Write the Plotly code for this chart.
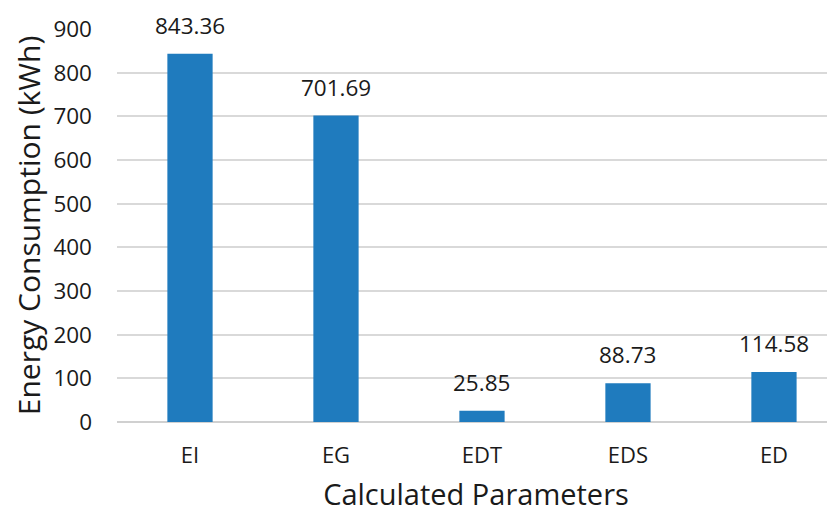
import plotly.graph_objects as go

categories = ["EI", "EG", "EDT", "EDS", "ED"]
values = [843.36, 701.69, 25.85, 88.73, 114.58]
labels = ["843.36", "701.69", "25.85", "88.73", "114.58"]
y_ticks = [0, 100, 200, 300, 400, 500, 600, 700, 800, 900]

FONT = "Open Sans"
TXT = "#1a1a1a"

fig = go.Figure()
fig.add_trace(go.Bar(
    x=categories, y=values,
    marker=dict(color="#1F7BBE", line=dict(width=0)),
    width=0.31,
    hoverinfo="skip",
))

for c, v, t in zip(categories, values, labels):
    fig.add_annotation(x=c, y=v, text=t, showarrow=False, yanchor="bottom",
                       yshift=11, font=dict(family=FONT, size=22.5, color=TXT))

# page body has an 8px margin, so the figure is 8px smaller than the window
fig.update_layout(
    width=827, height=505,
    margin=dict(l=109, r=0, t=21, b=91, pad=0),
    paper_bgcolor="white", plot_bgcolor="white",
    showlegend=False,
    font=dict(family=FONT, color=TXT),
    xaxis=dict(
        range=[-0.5, 4.418], automargin=False,
        showgrid=False, showline=False, zeroline=False,
        tickfont=dict(family=FONT, size=22, color=TXT),
        ticks="", ticklabelstandoff=18,
        title=dict(text="Calculated Parameters", font=dict(family=FONT, size=29, color=TXT), standoff=16),
    ),
    yaxis=dict(
        range=[0, 900], automargin=False,
        tickvals=y_ticks,
        showgrid=True, gridcolor="#D9D9D9", gridwidth=1.5,
        zeroline=True, zerolinecolor="#D0D0D0", zerolinewidth=1.5,
        showline=False,
        tickfont=dict(family=FONT, size=22.5, color=TXT),
        ticks="", ticklabelstandoff=24,
        title=dict(text="Energy Consumption (kWh)", font=dict(family=FONT, size=30, color=TXT), standoff=10),
    ),
)

fig.write_html("out.html")
